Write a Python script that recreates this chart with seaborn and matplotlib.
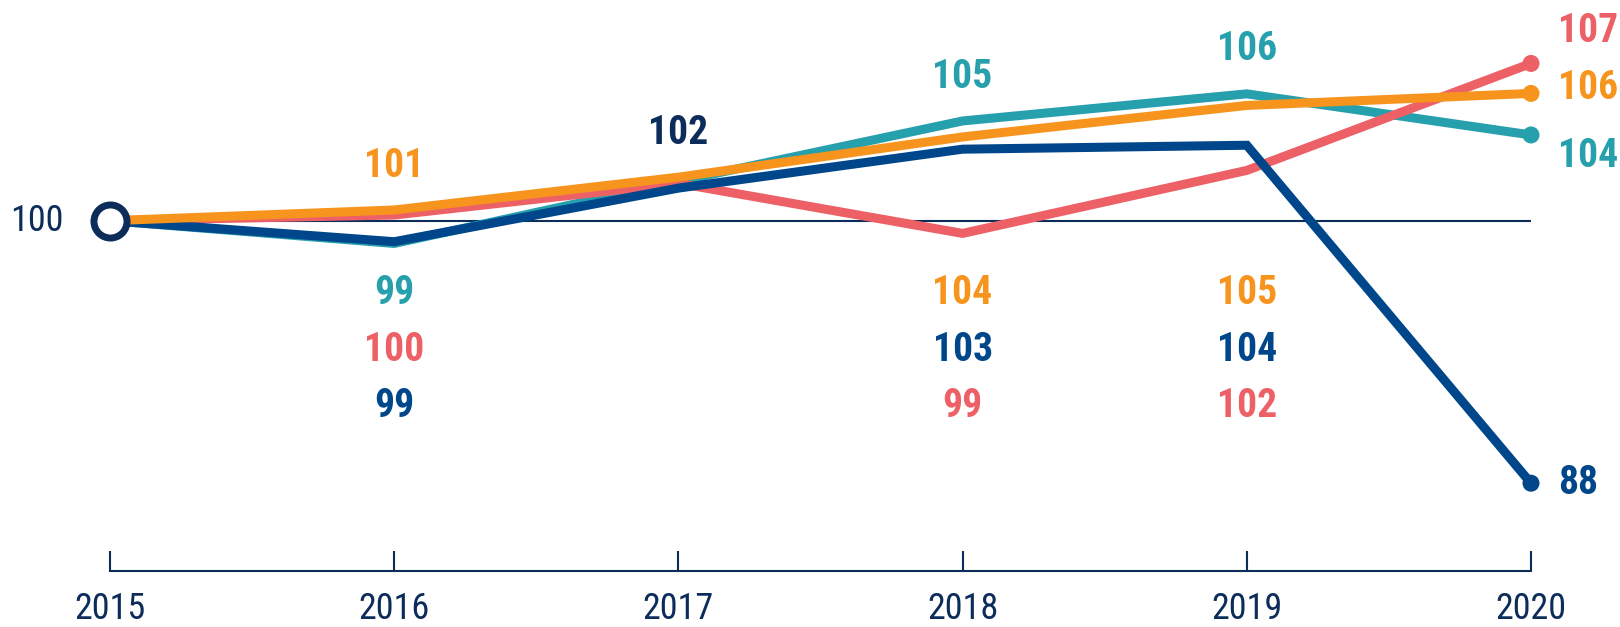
import pandas as pd
import seaborn as sns
import matplotlib.pyplot as plt
from matplotlib import font_manager

# Index values, 2015 = 100
years = [2015, 2016, 2017, 2018, 2019, 2020]
teal = [100, 98.96, 101.8, 104.56, 105.8, 103.92]
red = [100, 100.26, 101.71, 99.42, 102.3, 107.19]
blue = [100, 99.04, 101.49, 103.27, 103.45, 88.0]
orange = [100, 100.49, 101.99, 103.83, 105.27, 105.82]

# printed labels
teal_labels = ["", "99", "", "105", "106", "104"]
red_labels = ["", "100", "", "99", "102", "107"]
blue_labels = ["", "99", "", "103", "104", "88"]
orange_labels = ["", "101", "", "104", "105", "106"]
common_label_2017 = "102"

colors = {"teal": "#26a0ad", "red": "#ec6066", "blue": "#00468b", "orange": "#f7941d"}
navy = "#0c2c5a"

sns.set_theme(style="white")
installed = {f.name for f in font_manager.fontManager.ttflist}
fam = "DejaVu Sans"
for cand in ["Roboto Condensed", "Liberation Sans Narrow", "Roboto"]:
    if cand in installed:
        fam = cand
        break
plt.rcParams["font.family"] = [fam, "DejaVu Sans"]

df = pd.DataFrame({
    "year": years * 4,
    "value": teal + red + blue + orange,
    "series": ["teal"] * 6 + ["red"] * 6 + ["blue"] * 6 + ["orange"] * 6,
})

fig = plt.figure(figsize=(16.2, 6.27), dpi=100)
ax = fig.add_axes([110 / 1620, 56.3 / 627, 1421 / 1620, 570.7 / 627])

ax.hlines(100, 2015, 2020.01, color=navy, lw=1.5, zorder=1)

sns.lineplot(data=df, x="year", y="value", hue="series", palette=colors,
             linewidth=6.5, legend=False, ax=ax, zorder=3, clip_on=False)
for line in ax.lines:
    line.set_solid_joinstyle("miter")

last = df[df["year"] == 2020]
sns.scatterplot(data=last, x="year", y="value", hue="series", palette=colors,
                s=150, linewidth=0, legend=False, ax=ax, zorder=4, clip_on=False)

ax.plot(2015, 100, "o", ms=23.8, mfc="white", mec=navy, mew=5, zorder=10, clip_on=False)

ax.set_xlim(2015, 2020)
ax.set_ylim(84.0, 110.09)

lbl = dict(fontsize=28.5, fontweight="bold", ha="center", va="center")
rows = [96.68, 94.07, 91.53]

# labels above the points
ax.annotate(orange_labels[1], (2016, orange[1]), xytext=(0, 32), textcoords="offset points",
            color=colors["orange"], **lbl)
ax.annotate(common_label_2017, (2017, orange[2]), xytext=(0, 32), textcoords="offset points",
            color=navy, **lbl)
ax.annotate(teal_labels[3], (2018, teal[3]), xytext=(0, 32), textcoords="offset points",
            color=colors["teal"], **lbl)
ax.annotate(teal_labels[4], (2019, teal[4]), xytext=(0, 32), textcoords="offset points",
            color=colors["teal"], **lbl)

# stacked labels below the lines
ax.text(2016, rows[0], teal_labels[1], color=colors["teal"], **lbl)
ax.text(2016, rows[1], red_labels[1], color=colors["red"], **lbl)
ax.text(2016, rows[2], blue_labels[1], color=colors["blue"], **lbl)
for i in (3, 4):
    ax.text(years[i], rows[0], orange_labels[i], color=colors["orange"], **lbl)
    ax.text(years[i], rows[1], blue_labels[i], color=colors["blue"], **lbl)
    ax.text(years[i], rows[2], red_labels[i], color=colors["red"], **lbl)

# end labels
end = dict(fontsize=28.5, fontweight="bold", ha="left", va="center")
ax.annotate(red_labels[5], (2020, 108.67), xytext=(19.5, 0), textcoords="offset points",
            color=colors["red"], **end)
ax.annotate(orange_labels[5], (2020, 106.05), xytext=(19.5, 0), textcoords="offset points",
            color=colors["orange"], **end)
ax.annotate(teal_labels[5], (2020, 102.97), xytext=(19.5, 0), textcoords="offset points",
            color=colors["teal"], **end)
ax.annotate(blue_labels[5], (2020, blue[5]), xytext=(19.5, 0), textcoords="offset points",
            color=colors["blue"], **end)

ax.annotate("100", (2015, 100), xytext=(-52.6, 0), textcoords="offset points",
            ha="center", va="center", fontsize=26, color=navy)

sns.despine(ax=ax, left=True, top=True, right=True)
ax.spines["bottom"].set_color(navy)
ax.spines["bottom"].set_linewidth(1.5)
ax.set_xticks(years)
ax.set_xticklabels([str(y) for y in years])
ax.set_yticks([])
ax.tick_params(axis="x", direction="in", length=14.4, width=1.5, color=navy,
               labelcolor=navy, labelsize=26, pad=14.5, bottom=True)
ax.set_xlabel("")
ax.set_ylabel("")
ax.patch.set_alpha(0)

fig.savefig("out.png", dpi=100)
